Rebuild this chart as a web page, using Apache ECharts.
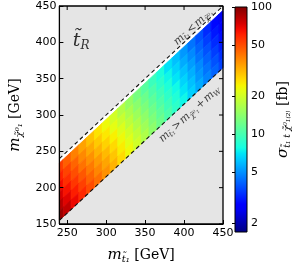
<!DOCTYPE html>
<html><head><meta charset="utf-8">
<script src="https://cdn.jsdelivr.net/npm/echarts@6/dist/echarts.min.js"></script>
<style>html,body{margin:0;padding:0;background:#fff}#c{width:296px;height:269px}</style>
</head><body><div id="c"></div>
<script>
// stop mass (GeV) columns, cell centres
const stopMass = [240,250,260,270,280,290,300,310,320,330,340,350,360,370,380,390,400,410,420,430,440,450];
// mass splitting rows, delta = m_stop - m_chi (GeV): row edges
const deltaEdges = [6, 20, 33, 46, 59, 72, 85];
// cross section [fb], one list per delta row (centres 13, 26, 39, 52, 65, 78 GeV)
const xsecDelta13 = [53.5,46,40,34.5,30,26,23,20,17.2,14.8,12.7,10.9,9.4,8.1,7.0,6.1,5.2,4.5,3.9,3.35,2.9,2.55];
const xsecDelta26 = [60,52,45,38.5,33.5,29,25.5,22,19,16.3,14,12,10.3,8.8,7.6,6.6,5.6,4.9,4.2,3.6,3.1,2.75];
const xsecDelta39 = [66,57,49.5,42.5,37,32,28,24.5,21,18,15.3,13.1,11.2,9.6,8.2,7.1,6.1,5.3,4.5,3.9,3.35,2.95];
const xsecDelta52 = [74,64,55,47.5,41,35.5,31,27,23,19.8,16.8,14.3,12.2,10.4,8.9,7.7,6.6,5.7,4.9,4.2,3.6,3.15];
const xsecDelta65 = [82,71,61,52.5,45,39,34,29.5,25,21.5,18.3,15.5,13.2,11.3,9.6,8.3,7.1,6.1,5.2,4.5,3.9,3.4];
const xsecDelta78 = [91,79,68,58,50,43,37,32,27,23,19.7,16.7,14.2,12.1,10.3,8.9,7.6,6.5,5.6,4.8,4.2,3.65];
const xsecRows = [xsecDelta13, xsecDelta26, xsecDelta39, xsecDelta52, xsecDelta65, xsecDelta78];
// kinematic boundary lines
const lineDegenerate = [[240,240],[450,450]];       // m_stop = m_chi
const lineWBoundary  = [[240,155],[450,365]];       // m_stop = m_chi + m_W (+m_b)
const whiteStrip = [240, 450, 0, 6];
const frameLine = [[240,150],[450,150],[450,450],[240,450],[240,150]];
// axis ticks
const xTicks = [250,300,350,400,450];
const yTicks = [150,200,250,300,350,400,450];
const cbTicks = [2,5,10,20,50,100];
const cbMin = 1.7, cbMax = 100;

function interp(seg, t){
  for (let i=0;i<seg.length-1;i++){
    if (t <= seg[i+1][0]) {
      const f = (t-seg[i][0])/(seg[i+1][0]-seg[i][0]);
      return seg[i][1] + f*(seg[i+1][1]-seg[i][1]);
    }
  }
  return seg[seg.length-1][1];
}
function jet(t){
  const R=[[0,0],[0.35,0],[0.66,1],[0.89,1],[1,0.5]];
  const G=[[0,0],[0.125,0],[0.375,1],[0.64,1],[0.91,0],[1,0]];
  const B=[[0,0.5],[0.11,1],[0.34,1],[0.65,0],[1,0]];
  const c = v => Math.round(255*v);
  return 'rgb('+c(interp(R,t))+','+c(interp(G,t))+','+c(interp(B,t))+')';
}
const jetColors = [];
for (let i=0;i<=40;i++) jetColors.push(jet(i/40));
const jetStops = jetColors.map((c,i)=>({offset:i/40, color:c}));

const lmin = Math.log10(cbMin), lmax = Math.log10(cbMax);

const cells = [];
xsecRows.forEach((row, r) => {
  row.forEach((v, i) => {
    const s = stopMass[i];
    cells.push([Math.max(240, s-5), Math.min(450, s+5), deltaEdges[r], deltaEdges[r+1], Math.log10(v)]);
  });
});

const chart = echarts.init(document.getElementById('c'), null, {renderer:'canvas'});
const serif = 'DejaVu Serif';
const tickFont = {fontFamily:'DejaVu Sans', fontSize:11, color:'#000'};

function parallelogram(api){
  const sLo=api.value(0), sHi=api.value(1), dLo=api.value(2), dHi=api.value(3);
  return [api.coord([sLo, sLo-dLo]), api.coord([sHi, sHi-dLo]), api.coord([sHi, sHi-dHi]), api.coord([sLo, sLo-dHi])];
}

const labelRich = {
  m:{fontFamily:serif, fontStyle:'italic', fontSize:11, color:'#111'},
  s:{fontFamily:serif, fontStyle:'italic', fontSize:7.5, color:'#111', verticalAlign:'bottom', padding:[6,0,0,0]},
  o:{fontFamily:serif, fontSize:11, color:'#111', padding:[0,1,0,1]}
};
const axisZ = 10;

chart.setOption({
  animation:false,
  grid:[
    {left:48, top:6, width:175, height:226, show:true, backgroundColor:'#e5e5e5', borderWidth:0},
    {left:235, top:7, width:12, height:225}
  ],
  visualMap:{type:'continuous', show:false, min:lmin, max:lmax, dimension:4, seriesIndex:[1], inRange:{color:jetColors}},
  xAxis:[
    {gridIndex:0, type:'value', min:240, max:450, position:'bottom', z:axisZ,
     name:'{m|m}{s|t̃₁}{n| [GeV]}', nameLocation:'middle', nameGap:22,
     nameTextStyle:{rich:{m:{fontFamily:serif,fontStyle:'italic',fontSize:15,color:'#000'},
                          s:{fontFamily:serif,fontStyle:'italic',fontSize:10,color:'#000',verticalAlign:'bottom',padding:[8,0,0,0]},
                          n:{fontFamily:serif,fontSize:14,color:'#000'}}},
     axisLine:{show:true, onZero:false, lineStyle:{color:'#000', width:1}},
     axisTick:{show:true, inside:true, length:4, customValues:xTicks, lineStyle:{color:'#000'}},
     axisLabel:{show:true, margin:4, customValues:xTicks, ...tickFont},
     splitLine:{show:false}},
    {gridIndex:1, type:'value', min:0, max:1, show:false}
  ],
  yAxis:[
    {gridIndex:0, type:'value', min:150, max:450, interval:50, position:'left', z:axisZ,
     name:'{m|m}{s|χ̃⁰₁}{n| [GeV]}', nameLocation:'middle', nameGap:30, nameRotate:90,
     nameTextStyle:{rich:{m:{fontFamily:serif,fontStyle:'italic',fontSize:15,color:'#000'},
                          s:{fontFamily:serif,fontStyle:'italic',fontSize:10,color:'#000',verticalAlign:'bottom',padding:[8,0,0,0]},
                          n:{fontFamily:serif,fontSize:14,color:'#000'}}},
     axisLine:{show:true, onZero:false, lineStyle:{color:'#000', width:1}},
     axisTick:{show:true, inside:true, length:4, lineStyle:{color:'#000'}},
     axisLabel:{show:true, margin:3, ...tickFont},
     splitLine:{show:false}},
    {gridIndex:1, type:'value', min:lmin, max:lmax, position:'right', z:axisZ,
     name:'{g|σ}{s|t̃₁ t χ̃⁰₁₍₂₎}{n| [fb]}', nameLocation:'middle', nameGap:28, nameRotate:90,
     nameTextStyle:{rich:{g:{fontFamily:serif,fontStyle:'italic',fontSize:15,color:'#000'},
                          s:{fontFamily:serif,fontStyle:'italic',fontSize:9,color:'#000',verticalAlign:'bottom',padding:[8,0,0,0]},
                          n:{fontFamily:serif,fontSize:14,color:'#000'}}},
     axisLine:{show:false},
     axisTick:{show:true, inside:true, length:3, customValues:cbTicks.map(v=>Math.log10(v)), lineStyle:{color:'#000'}},
     axisLabel:{show:true, margin:4, customValues:cbTicks.map(v=>Math.log10(v)),
                formatter:v=>String(Math.round(Math.pow(10,v))), ...tickFont},
     splitLine:{show:false}}
  ],
  series:[
    {type:'custom', xAxisIndex:0, yAxisIndex:0, silent:true, data:[whiteStrip], z:1,
     renderItem:(p, api)=>({type:'polygon', shape:{points:parallelogram(api)}, style:{fill:'#ffffff', stroke:'#ffffff', lineWidth:0.5}})},
    {type:'custom', xAxisIndex:0, yAxisIndex:0, silent:true, data:cells, z:2,
     renderItem:(p, api)=>{
       const col = api.visual('color');
       return {type:'polygon', shape:{points:parallelogram(api)}, style:{fill:col, stroke:col, lineWidth:0.8}};
     }},
    {type:'line', xAxisIndex:0, yAxisIndex:0, data:lineDegenerate, symbol:'none', z:5,
     lineStyle:{color:'#111', width:1.1, type:[4,3]}},
    {type:'line', xAxisIndex:0, yAxisIndex:0, data:lineWBoundary, symbol:'none', z:5,
     lineStyle:{color:'#111', width:1.1, type:[4,3]}},
    {type:'scatter', xAxisIndex:0, yAxisIndex:0, symbolSize:0, z:6, silent:true,
     data:[
       {value:[412,421], label:{show:true, position:'inside', rotate:42, formatter:'{m|m}{s|t̃₁}{o|<}{m|m}{s|χ̃⁰₁}', rich:labelRich}},
       {value:[407,301], label:{show:true, position:'inside', rotate:42, formatter:'{m|m}{s|t̃₁}{o|>}{m|m}{s|χ̃⁰₁}{o|+}{m|m}{s|W}', rich:labelRich}},
       {value:[268,402], label:{show:true, position:'inside', formatter:'{t|t̃}{r|R}',
         rich:{t:{fontFamily:serif,fontStyle:'italic',fontSize:19,color:'#000'},
               r:{fontFamily:serif,fontStyle:'italic',fontSize:12,color:'#000',verticalAlign:'bottom',padding:[10,0,0,0]}}}}
     ]},
    {type:'line', xAxisIndex:0, yAxisIndex:0, data:frameLine, symbol:'none', z:20, silent:true, clip:false,
     lineStyle:{color:'#000', width:1.3, type:'solid'}},
    {type:'custom', xAxisIndex:0, yAxisIndex:0, silent:true, data:xTicks.map(v=>[v,450]), z:20, clip:false,
     renderItem:(p, api)=>{
       const a = api.coord([api.value(0), api.value(1)]);
       return {type:'line', shape:{x1:a[0], y1:a[1], x2:a[0], y2:a[1]+4}, style:{stroke:'#000', lineWidth:1}};
     }},
    {type:'custom', xAxisIndex:0, yAxisIndex:0, silent:true, data:yTicks.map(v=>[450,v]), z:20, clip:false,
     renderItem:(p, api)=>{
       const a = api.coord([api.value(0), api.value(1)]);
       return {type:'line', shape:{x1:a[0], y1:a[1], x2:a[0]-4, y2:a[1]}, style:{stroke:'#000', lineWidth:1}};
     }},
    {type:'custom', xAxisIndex:1, yAxisIndex:1, silent:true, data:[[0,1,lmin,lmax]],
     renderItem:(p, api)=>{
       const a = api.coord([api.value(0), api.value(2)]);
       const b = api.coord([api.value(1), api.value(3)]);
       return {type:'rect', shape:{x:a[0], y:b[1], width:b[0]-a[0], height:a[1]-b[1]},
         style:{fill:{type:'linear', x:0, y:1, x2:0, y2:0, colorStops:jetStops}, stroke:'#000', lineWidth:1}};
     }}
  ]
});
</script></body></html>
